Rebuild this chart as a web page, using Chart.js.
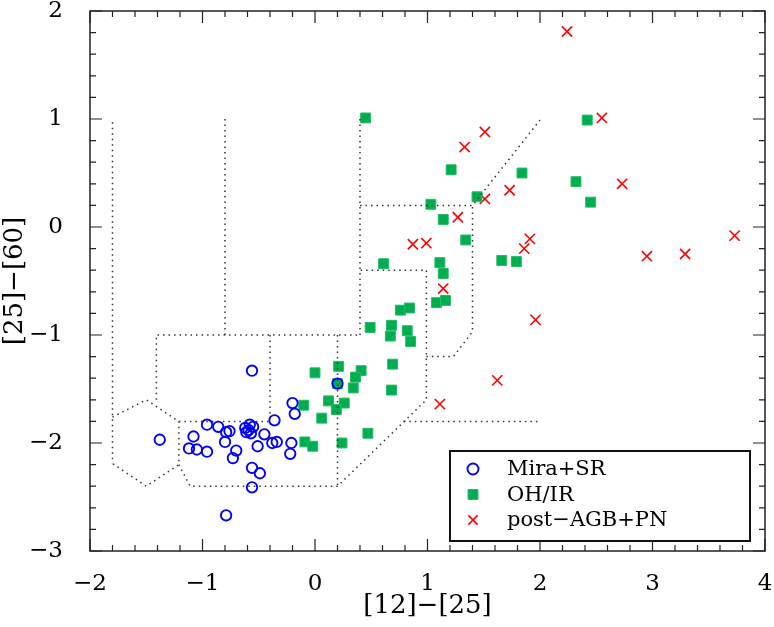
<!DOCTYPE html>
<html>
<head>
<meta charset="utf-8">
<script src="https://cdn.jsdelivr.net/npm/chart.js@4.4.1/dist/chart.umd.min.js"></script>
<style>
  html, body { margin: 0; padding: 0; background: #fff; }
  #wrap { width: 774px; height: 627px; }
</style>
</head>
<body>
<div id="wrap"><canvas id="cc"></canvas></div>
<script>
// [12]-[25] vs [25]-[60] colour-colour points
const miraSR = [
    [-1.38, -1.97], [-0.96, -1.83], [-0.86, -1.85], [-1.08, -1.94], [-1.12, -2.05],
    [-1.05, -2.06], [-0.96, -2.08], [-0.79, -1.90], [-0.76, -1.89], [-0.80, -1.99],
    [-0.70, -2.07], [-0.73, -2.14], [-0.62, -1.86], [-0.58, -1.83], [-0.55, -1.85],
    [-0.61, -1.90], [-0.57, -1.91], [-0.59, -1.88], [-0.45, -1.92], [-0.51, -2.03],
    [-0.36, -1.79], [-0.38, -2.00], [-0.34, -1.99], [-0.56, -2.23], [-0.49, -2.28],
    [-0.56, -2.41], [-0.79, -2.67], [-0.56, -1.33], [-0.20, -1.63], [-0.18, -1.73],
    [-0.21, -2.00], [-0.22, -2.10], [0.20, -1.45]
];
const ohIR = [
    [0.45, 1.01], [1.21, 0.53], [1.44, 0.28], [1.03, 0.21], [1.14, 0.07],
    [1.34, -0.12], [0.61, -0.34], [1.11, -0.33], [1.14, -0.43], [1.08, -0.70],
    [1.16, -0.68], [0.76, -0.77], [0.84, -0.75], [0.49, -0.93], [0.68, -0.91],
    [0.67, -1.01], [0.82, -0.96], [0.85, -1.06], [0.00, -1.35], [0.21, -1.29],
    [0.41, -1.33], [0.36, -1.39], [0.69, -1.27], [0.34, -1.49], [0.68, -1.51],
    [0.12, -1.61], [0.26, -1.63], [0.19, -1.69], [-0.10, -1.65], [0.06, -1.77],
    [0.47, -1.91], [0.24, -2.00], [-0.09, -1.99], [-0.02, -2.03], [0.20, -1.45],
    [2.42, 0.99], [1.84, 0.50], [2.32, 0.42], [2.45, 0.23], [1.66, -0.31], [1.79, -0.32]
];
const postAGB = [
    [2.24, 1.81], [2.55, 1.01], [1.51, 0.88], [1.33, 0.74], [2.73, 0.40],
    [1.73, 0.34], [1.51, 0.26], [1.27, 0.09], [0.87, -0.16], [0.99, -0.15],
    [1.91, -0.11], [1.86, -0.20], [2.95, -0.27], [3.29, -0.25], [3.73, -0.08],
    [1.14, -0.57], [1.96, -0.86], [1.62, -1.42], [1.11, -1.64]
];

// region boundaries (dotted)
const regionLines = [
    [[-1.80, 0.97], [-1.80, -2.19]],
    [[-1.80, -1.76], [-1.50, -1.60], [-1.21, -1.80], [-1.21, -2.20], [-1.50, -2.40], [-1.80, -2.19]],
    [[-1.41, -1.60], [-1.41, -1.00], [0.40, -1.00]],
    [[-0.80, 1.00], [-0.80, -1.00]],
    [[0.40, -1.00], [0.40, 1.00]],
    [[-0.40, -1.00], [-0.40, -1.80], [-1.21, -1.80]],
    [[0.20, -1.00], [0.20, -2.40]],
    [[-1.21, -2.20], [-1.11, -2.40], [0.20, -2.40], [0.99, -1.60], [0.99, -0.40], [0.40, -0.40]],
    [[0.79, -1.80], [2.00, -1.80]],
    [[0.40, 0.20], [1.40, 0.20], [2.00, 0.99]],
    [[0.99, -1.20], [1.23, -1.20], [1.40, -0.97], [1.40, 0.20]]
];

const xRange = [-2, 4];
const yRange = [-3, 2];

const FONT = 'DejaVu Serif';
const toXY = arr => arr.map(p => ({ x: p[0], y: p[1] }));
const minusLabel = v => (v < 0 ? '\u2212' + Math.abs(v) : String(v));

const guideSets = regionLines.map(line => ({
    data: toXY(line),
    showLine: true,
    borderColor: '#333',
    borderWidth: 1.5,
    borderDash: [1.5, 4],
    pointRadius: 0,
    fill: false,
    isGuide: true
}));

const pointSets = [
    {
        label: 'Mira+SR',
        data: toXY(miraSR),
        pointStyle: 'circle',
        pointRadius: 5.2,
        pointBorderWidth: 1.9,
        borderColor: '#0000ff',
        backgroundColor: 'rgba(0,0,0,0)'
    },
    {
        label: 'OH/IR',
        data: toXY(ohIR),
        pointStyle: 'rect',
        pointRadius: 7,
        pointBorderWidth: 1,
        borderColor: '#22bb66',
        backgroundColor: '#00ae4f'
    },
    {
        label: 'post\u2212AGB+PN',
        data: toXY(postAGB),
        pointStyle: 'crossRot',
        pointRadius: 7.2,
        pointBorderWidth: 1.6,
        borderColor: '#ff0000',
        backgroundColor: '#ff0000'
    }
];

const frameTicks = {
    id: 'frameTicks',
    afterDatasetsDraw(chart) {
        const ctx = chart.ctx, a = chart.chartArea;
        const xs = chart.scales.x, ys = chart.scales.y;
        ctx.save();
        ctx.strokeStyle = '#222';
        ctx.lineWidth = 1.5;
        ctx.strokeRect(a.left, a.top, a.right - a.left, a.bottom - a.top);
        ctx.lineWidth = 1.2;
        ctx.beginPath();
        for (let k = xRange[0] * 5; k <= xRange[1] * 5; k++) {
            const px = xs.getPixelForValue(k / 5);
            const len = k % 5 === 0 ? 12 : 6;
            ctx.moveTo(px, a.bottom); ctx.lineTo(px, a.bottom - len);
            ctx.moveTo(px, a.top); ctx.lineTo(px, a.top + len);
        }
        for (let k = yRange[0] * 5; k <= yRange[1] * 5; k++) {
            const py = ys.getPixelForValue(k / 5);
            const len = k % 5 === 0 ? 12 : 6;
            ctx.moveTo(a.left, py); ctx.lineTo(a.left + len, py);
            ctx.moveTo(a.right, py); ctx.lineTo(a.right - len, py);
        }
        ctx.stroke();
        ctx.restore();
    },
    afterDraw(chart) {
        // boxed legend, lower right inside the plot
        const ctx = chart.ctx, a = chart.chartArea;
        const sets = chart.data.datasets.filter(d => !d.isGuide);
        const w = 300, h = 90;
        const bx = a.right - 15 - w, by = a.bottom - 10 - h;
        ctx.save();
        ctx.fillStyle = '#fff';
        ctx.fillRect(bx, by, w, h);
        ctx.strokeStyle = '#111';
        ctx.lineWidth = 2;
        ctx.strokeRect(bx, by, w, h);
        ctx.font = '21px "' + FONT + '"';
        ctx.textBaseline = 'middle';
        sets.forEach((d, i) => {
            const cy = by + 18 + i * 25.5;
            ctx.strokeStyle = d.borderColor;
            ctx.fillStyle = d.backgroundColor;
            ctx.lineWidth = d.pointBorderWidth;
            Chart.helpers.drawPoint(ctx, {
                pointStyle: d.pointStyle,
                radius: d.pointStyle === 'circle' ? 5.5 : (d.pointStyle === 'rect' ? 7 : 6.5),
                borderWidth: d.pointBorderWidth,
                rotation: 0
            }, bx + 23, cy);
            ctx.fillStyle = '#000';
            ctx.fillText(d.label, bx + 57, cy + 1);
        });
        ctx.restore();
    }
};

new Chart(document.getElementById('cc').getContext('2d'), {
    type: 'scatter',
    data: { datasets: guideSets.concat(pointSets) },
    plugins: [frameTicks],
    options: {
        responsive: true,
        maintainAspectRatio: false,
        animation: false,
        layout: { padding: { top: 11, right: 9, bottom: 0, left: 0 } },
        plugins: {
            legend: { display: false },
            tooltip: { enabled: false }
        },
        scales: {
            x: {
                type: 'linear',
                min: xRange[0],
                max: xRange[1],
                grid: { display: false },
                border: { display: false },
                ticks: {
                    stepSize: 1,
                    padding: 11,
                    color: '#000',
                    font: { family: FONT, size: 23 },
                    callback: minusLabel
                },
                title: {
                    display: true,
                    text: '[12]\u2212[25]',
                    color: '#000',
                    font: { family: FONT, size: 26 },
                    padding: { top: 0, bottom: 5 }
                },
                afterFit(scale) {
                    scale.height = 76;
                    scale.paddingLeft = 0;
                    scale.paddingRight = 0;
                }
            },
            y: {
                type: 'linear',
                min: yRange[0],
                max: yRange[1],
                grid: { display: false },
                border: { display: false },
                ticks: {
                    stepSize: 1,
                    padding: 19,
                    color: '#000',
                    font: { family: FONT, size: 23 },
                    callback: minusLabel
                },
                title: {
                    display: true,
                    text: '[25]\u2212[60]',
                    color: '#000',
                    font: { family: FONT, size: 26 },
                    padding: 0
                },
                afterFit(scale) {
                    scale.width = 90;
                    scale.paddingTop = 0;
                    scale.paddingBottom = 0;
                }
            }
        }
    }
});
</script>
</body>
</html>
